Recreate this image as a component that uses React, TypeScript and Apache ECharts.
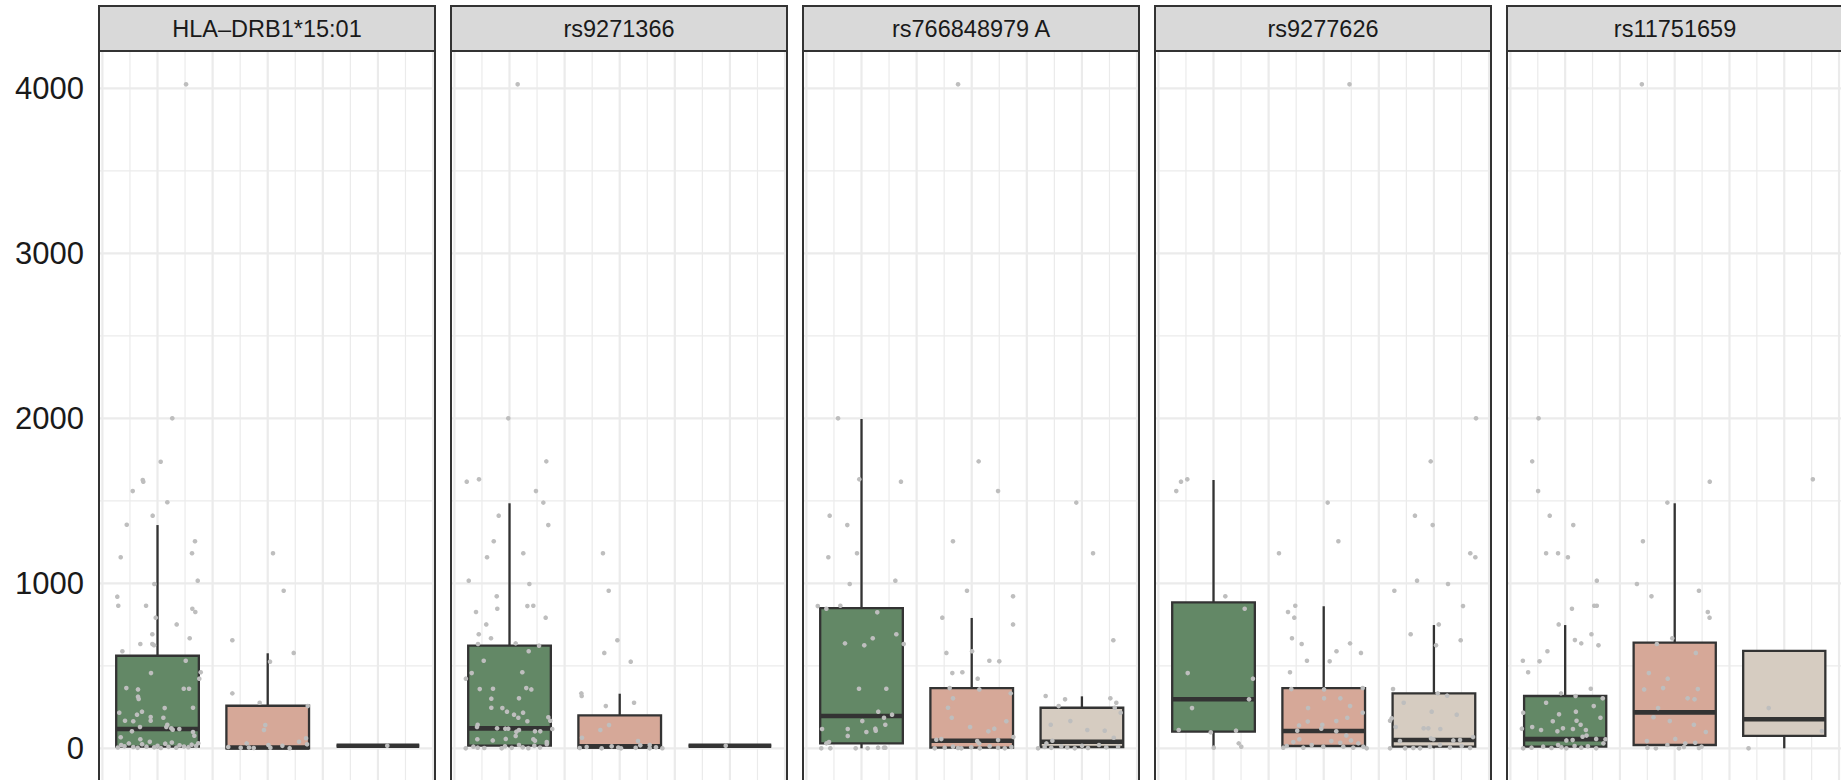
import React, { useEffect, useRef } from "react";
import * as echarts from "echarts";

const PANEL_TITLES = ["HLA–DRB1*15:01", "rs9271366", "rs766848979 A", "rs9277626", "rs11751659"];
const GROUP_X = [1, 2, 3];
const GROUP_COLORS = ["#638866", "#D6A898", "#D6CCC1"];
const Y_LABELS = [0, 1000, 2000, 3000, 4000];
const Y_MINOR = [500, 1500, 2500, 3500];
const X_MAJOR = [0.5, 1, 1.5, 2, 2.5, 3, 3.5];
const X_MINOR = [0.75, 1.25, 1.75, 2.25, 2.75, 3.25];

// [lower whisker, Q1, median, Q3, upper whisker] per group
const BOX_1 = [[0, 10, 117, 561, 1353], [0, 0, 5, 258, 576], [16, 16, 16, 16, 16]];
const BOX_2 = [[5, 16, 121, 622, 1485], [0, 5, 12, 200, 331], [16, 16, 16, 16, 16]];
const BOX_3 = [[0, 30, 196, 850, 1996], [0, 4, 46, 365, 790], [0, 8, 40, 246, 315]];
const BOX_4 = [[0, 101, 297, 885, 1626], [0, 14, 105, 365, 861], [0, 10, 50, 333, 747]];
const BOX_5 = [[0, 10, 56, 317, 747], [20, 20, 218, 641, 1485], [0, 75, 176, 590, 590]];

// jittered points [x, value]
const POINTS_1 = [
  [1.259, 4024], [1.134, 2000], [1.029, 1737], [0.866, 1626], [0.871, 1616], [0.775, 1559], [1.089, 1491], [0.956, 1410], [0.721, 1355], [1.34, 1255], [1.313, 1182], [0.666, 1158], [1.365, 1016], [0.971, 996], [0.635, 919], [0.644, 864], [0.896, 864], [1.316, 846], [1.343, 826], [0.984, 792], [1.174, 751], [0.953, 691], [1.292, 667], [0.844, 632], [0.953, 632], [0.968, 625], [0.681, 588], [1.256, 531], [1.392, 461], [0.941, 456], [1.379, 422], [0.717, 365], [0.823, 357], [1.238, 361], [1.286, 361], [0.823, 313], [0.829, 299], [1.322, 246], [1.065, 244], [0.859, 222], [0.653, 216], [0.814, 204], [0.938, 190], [1.053, 185], [0.938, 167], [0.705, 167], [0.78, 164], [1.089, 143], [0.841, 129], [1.08, 129], [1.125, 121], [1.198, 117], [1.138, 113], [0.768, 103], [1.322, 99], [1.334, 76], [0.666, 67], [0.844, 55],
  [0.64, 5], [0.67, 20], [0.7, 12], [0.74, 30], [0.78, 8], [0.82, 3], [0.86, 25], [0.9, 10], [0.93, 40], [0.97, 6], [1.0, 15], [1.03, 2], [1.07, 28], [1.1, 9], [1.13, 35], [1.17, 4], [1.2, 18], [1.24, 11], [1.28, 7], [1.31, 22], [1.35, 14], [1.37, 31],
  [2.048, 1182], [2.145, 955], [1.679, 655], [2.236, 578], [2.021, 525], [1.679, 333], [1.927, 276], [2.363, 256], [1.978, 141], [1.966, 111], [2.348, 61], [2.357, 24], [1.642, 8], [1.755, 3], [1.809, 30], [1.83, 5], [1.873, 2], [2.006, 20], [2.024, 4], [2.133, 15], [2.199, 1], [2.284, 40],
  [3.085, 16],
];
const POINTS_2 = [
  [1.074, 4024], [0.989, 2000], [1.334, 1739], [0.612, 1616], [0.723, 1630], [1.24, 1559], [1.307, 1489], [1.352, 1353], [0.902, 1410], [0.857, 1255], [0.796, 1158], [1.125, 1182], [0.63, 1016], [1.18, 996], [0.884, 921], [0.889, 846], [0.696, 826], [1.162, 862], [1.216, 864], [1.328, 792], [0.789, 751], [0.721, 691], [0.832, 667], [0.714, 632], [1.056, 636], [1.268, 622], [1.174, 588], [0.766, 531], [0.657, 456], [1.116, 461], [0.604, 422], [0.73, 359], [0.85, 361], [1.152, 365], [1.198, 357], [0.835, 301], [1.086, 303], [0.835, 246], [0.935, 244], [0.977, 222], [1.041, 204], [1.123, 216], [1.08, 185], [1.162, 164], [1.352, 188], [1.37, 167], [0.711, 143], [0.705, 129], [0.887, 121], [0.962, 119], [0.989, 119], [1.062, 101], [1.086, 111], [1.231, 103], [1.279, 103], [1.388, 117], [0.708, 55], [0.848, 48], [0.966, 57], [1.216, 55], [1.056, 75], [1.231, 46], [1.338, 38],
  [0.603, 0], [0.672, 10], [0.711, 4], [0.771, 2], [0.929, 0], [0.959, 12], [1.02, 3], [1.086, 20], [1.12, 6], [1.171, 1], [1.225, 15], [1.277, 5], [1.338, 25],
  [1.848, 1182], [1.9, 955], [1.979, 655], [1.86, 578], [2.1, 525], [1.652, 333], [1.655, 317], [1.874, 256], [2.13, 276], [1.903, 141], [1.824, 111], [1.658, 64], [2.166, 44], [2.272, 20], [1.637, 2], [1.7, 8], [1.836, 0], [1.927, 12], [1.987, 5], [2.012, 0], [2.145, 3], [2.187, 18], [2.272, 0], [2.329, 6], [2.387, 1],
  [2.962, 16],
];
const POINTS_3 = [
  [0.787, 2000], [0.98, 1630], [1.358, 1616], [0.711, 1410], [0.871, 1353], [0.699, 1158], [0.959, 1182], [0.893, 996], [1.307, 1016], [0.603, 862], [0.681, 846], [0.808, 864], [1.143, 824], [0.85, 636], [1.025, 624], [1.102, 667], [1.316, 691], [1.383, 632], [0.977, 361], [1.225, 361], [1.152, 222], [1.277, 204], [1.204, 185], [1.007, 165], [1.216, 143], [0.642, 117], [0.875, 117], [1.125, 119], [1.129, 107], [1.044, 99], [0.875, 75], [0.705, 38], [0.681, 30], [0.635, 0], [0.717, 0], [0.947, 0], [1.056, 0], [1.15, 4], [1.204, 4], [1.216, 4],
  [1.876, 4024], [2.063, 1739], [2.239, 1559], [1.83, 1255], [1.957, 955], [2.375, 921], [1.733, 792], [2.375, 751], [1.77, 578], [2.003, 588], [2.16, 531], [2.25, 527], [1.824, 456], [1.915, 461], [2.054, 422], [1.8, 365], [2.069, 357], [2.354, 333], [1.83, 303], [1.785, 246], [1.819, 185], [2.314, 164], [1.985, 129], [2.205, 119], [2.151, 103], [2.378, 68], [2.239, 50], [2.05, 44], [1.679, 52], [1.724, 56], [2.068, 30], [1.664, 0], [1.755, 4], [1.83, 10], [1.876, 2], [1.906, 0], [1.996, 6], [2.073, 0], [2.163, 12], [2.239, 3], [2.3, 0], [2.36, 8],
  [2.949, 1489], [3.101, 1182], [3.285, 655], [2.671, 317], [2.847, 297], [2.789, 256], [3.258, 303], [3.312, 276], [3.352, 216], [3.298, 246], [2.717, 143], [2.895, 165], [3.049, 111], [3.207, 107], [3.289, 64], [2.732, 46], [2.678, 30], [2.602, 0], [2.662, 8], [2.722, 3], [2.813, 12], [2.867, 5], [2.935, 0], [3.001, 15], [3.055, 2], [3.155, 20], [3.221, 6], [3.328, 10],
];
const POINTS_4 = [
  [0.662, 1559], [0.705, 1616], [0.762, 1630], [1.107, 921], [1.283, 846], [0.766, 456], [1.358, 422], [1.322, 297], [0.805, 244], [0.684, 111], [0.975, 97], [1.204, 107], [1.229, 30], [1.252, 10], [1.002, 4],
  [2.234, 4024], [2.036, 1489], [2.133, 1255], [1.594, 1182], [1.742, 864], [1.676, 826], [1.733, 792], [1.712, 667], [1.8, 632], [2.239, 636], [2.116, 588], [2.338, 578], [2.054, 527], [1.848, 531], [1.694, 461], [1.706, 359], [2.003, 357], [2.354, 365], [2.003, 303], [2.151, 303], [2.239, 256], [1.858, 244], [2.354, 216], [2.214, 185], [1.855, 162], [2.114, 165], [1.776, 139], [1.987, 143], [1.978, 119], [1.76, 107], [2.114, 103], [2.205, 77], [1.779, 55], [2.069, 44], [2.15, 34], [1.724, 38], [2.248, 48], [2.314, 30], [2.36, 10], [1.633, 4], [1.664, 14], [1.815, 4], [1.891, 20], [1.996, 10], [2.178, 10], [2.268, 4], [2.39, 0],
  [3.382, 2000], [2.971, 1739], [2.828, 1410], [2.989, 1353], [3.33, 1182], [3.376, 1158], [2.847, 1016], [3.128, 996], [2.641, 955], [3.264, 862], [3.044, 751], [2.789, 691], [3.243, 655], [3.019, 624], [2.629, 359], [2.726, 276], [3.035, 333], [3.12, 319], [2.98, 222], [3.207, 204], [2.617, 182], [2.653, 129], [2.602, 167], [2.907, 121], [2.949, 121], [3.058, 117], [3.355, 68], [2.974, 60], [2.995, 55], [2.692, 44], [3.176, 48], [3.237, 50], [2.602, 0], [2.738, 0], [2.813, 2], [2.874, 0], [2.964, 10], [3.055, 20], [3.146, 5], [3.252, 14], [3.328, 2],
];
const POINTS_5 = [
  [0.757, 2000], [0.699, 1739], [0.753, 1559], [0.859, 1410], [1.074, 1353], [0.826, 1182], [0.935, 1182], [1.025, 1158], [1.289, 1016], [1.062, 846], [1.265, 864], [1.289, 864], [0.941, 751], [1.089, 656], [1.147, 636], [1.24, 691], [1.304, 624], [0.838, 588], [0.614, 531], [0.766, 527], [0.662, 461], [1.234, 361], [0.962, 333], [1.095, 317], [1.343, 303], [0.826, 276], [1.261, 256], [0.617, 216], [0.944, 206], [1.098, 222], [1.322, 185], [0.887, 164], [1.104, 167], [1.141, 143], [0.699, 129], [0.78, 111], [0.929, 103], [0.98, 121], [1.071, 117], [1.189, 111], [0.605, 119], [1.159, 70], [1.195, 77], [1.283, 57], [1.368, 55], [1.011, 48], [1.068, 50], [0.617, 0], [0.693, 4], [0.799, 10], [0.875, 2], [0.935, 20], [0.966, 6], [1.011, 0], [1.086, 14], [1.147, 4], [1.207, 12], [1.283, 0], [1.349, 30],
  [1.7, 4024], [2.32, 1616], [1.933, 1489], [1.71, 1255], [1.655, 996], [1.788, 921], [2.221, 955], [2.302, 826], [2.318, 792], [1.978, 667], [1.837, 632], [2.193, 578], [1.764, 456], [1.936, 422], [1.721, 357], [1.894, 365], [2.211, 359], [2.118, 303], [2.181, 297], [1.848, 244], [1.806, 188], [1.955, 165], [2.175, 143], [2.284, 99], [2.005, 57], [1.746, 44], [2.096, 30], [2.187, 34], [1.751, 4], [1.828, 0], [1.933, 20], [2.039, 0], [2.084, 8], [2.221, 2], [2.245, 10],
  [3.261, 1630], [2.858, 244], [3.343, 105], [2.674, 0],
];

const BOXES = [BOX_1, BOX_2, BOX_3, BOX_4, BOX_5];
const POINTS = [POINTS_1, POINTS_2, POINTS_3, POINTS_4, POINTS_5];

// layout
const W = 1841;
const H = 780;
const PANEL_LEFT0 = 99;
const PANEL_STEP = 352;
const PANEL_W = 336;
const STRIP_TOP = 6;
const PANEL_TOP = 51;
const X_MIN = 0.469;
const X_MAX = 3.518;
const Y_MIN = -192;
const Y_MAX = 4226;
const FONT = "'Liberation Sans', Arial, Helvetica, sans-serif";
const GRID_COLOR = "#EBEBEB";
const INK = "#333333";
const BOX_LW = 2.3;
const MEDIAN_LW = 4.6;

export default function App() {
  const ref = useRef<HTMLDivElement>(null);
  useEffect(() => {
    if (!ref.current) return;
    const chart = echarts.init(ref.current, null, { renderer: "svg" });

    const gridLines: number[][] = [];
    X_MAJOR.forEach((v) => gridLines.push([0, v, 1]));
    X_MINOR.forEach((v) => gridLines.push([0, v, 0]));
    Y_LABELS.forEach((v) => gridLines.push([1, v, 1]));
    Y_MINOR.forEach((v) => gridLines.push([1, v, 0]));

    const grids: any[] = [];
    const xAxes: any[] = [];
    const yAxes: any[] = [];
    const series: any[] = [];
    const graphics: any[] = [];

    PANEL_TITLES.forEach((title, i) => {
      const left = PANEL_LEFT0 + i * PANEL_STEP;
      grids.push({ left, top: PANEL_TOP, width: PANEL_W, height: H - PANEL_TOP, show: false });
      xAxes.push({ gridIndex: i, type: "value", min: X_MIN, max: X_MAX, show: false });
      yAxes.push({
        gridIndex: i,
        type: "value",
        min: Y_MIN,
        max: Y_MAX,
        show: i === 0,
        axisLine: { show: false },
        axisTick: { show: false },
        splitLine: { show: false },
        axisLabel: {
          show: i === 0,
          customValues: Y_LABELS,
          formatter: (v: number) => String(v),
          fontSize: 31,
          color: "#1A1A1A",
          fontFamily: FONT,
          margin: 15,
        },
      });

      series.push({
        type: "custom",
        xAxisIndex: i,
        yAxisIndex: i,
        silent: true,
        z: 1,
        data: gridLines,
        renderItem: (params: any, api: any) => {
          const cs = params.coordSys;
          const orient = api.value(0);
          const v = api.value(1);
          const major = api.value(2) === 1;
          const lw = major ? 2.2 : 1.2;
          if (orient === 0) {
            const p = api.coord([v, 0]);
            return {
              type: "line",
              shape: { x1: p[0], y1: cs.y, x2: p[0], y2: cs.y + cs.height + 40 },
              style: { stroke: GRID_COLOR, lineWidth: lw },
            };
          }
          const p = api.coord([1, v]);
          return {
            type: "line",
            shape: { x1: cs.x, y1: p[1], x2: cs.x + cs.width, y2: p[1] },
            style: { stroke: GRID_COLOR, lineWidth: lw },
          };
        },
      });

      const boxData = BOXES[i].map((b, g) => [GROUP_X[g], b[0], b[1], b[2], b[3], b[4], g]);
      series.push({
        type: "custom",
        xAxisIndex: i,
        yAxisIndex: i,
        silent: true,
        z: 2,
        data: boxData,
        renderItem: (_params: any, api: any) => {
          const x = api.value(0);
          const w = api.size([0.75, 0])[0];
          const pLow = api.coord([x, api.value(1)]);
          const pQ1 = api.coord([x, api.value(2)]);
          const pMed = api.coord([x, api.value(3)]);
          const pQ3 = api.coord([x, api.value(4)]);
          const pHigh = api.coord([x, api.value(5)]);
          const color = GROUP_COLORS[api.value(6)];
          const cx = pMed[0];
          return {
            type: "group",
            children: [
              { type: "line", shape: { x1: cx, y1: pQ3[1], x2: cx, y2: pHigh[1] }, style: { stroke: INK, lineWidth: BOX_LW } },
              { type: "line", shape: { x1: cx, y1: pQ1[1], x2: cx, y2: pLow[1] }, style: { stroke: INK, lineWidth: BOX_LW } },
              {
                type: "rect",
                shape: { x: cx - w / 2, y: pQ3[1], width: w, height: pQ1[1] - pQ3[1] },
                style: { fill: color, stroke: INK, lineWidth: BOX_LW },
              },
              { type: "line", shape: { x1: cx - w / 2, y1: pMed[1], x2: cx + w / 2, y2: pMed[1] }, style: { stroke: INK, lineWidth: MEDIAN_LW } },
            ],
          };
        },
      });

      series.push({
        type: "scatter",
        xAxisIndex: i,
        yAxisIndex: i,
        silent: true,
        z: 3,
        symbol: "circle",
        symbolSize: 4.6,
        itemStyle: { color: "#BEBEBE", opacity: 1 },
        data: POINTS[i],
      });

      graphics.push({
        type: "rect",
        z: 100,
        silent: true,
        shape: { x: left, y: PANEL_TOP, width: PANEL_W, height: H },
        style: { fill: "none", stroke: INK, lineWidth: 2 },
      });
      graphics.push({
        type: "rect",
        z: 100,
        silent: true,
        shape: { x: left, y: STRIP_TOP, width: PANEL_W, height: PANEL_TOP - STRIP_TOP },
        style: { fill: "#D9D9D9", stroke: INK, lineWidth: 2 },
      });
      graphics.push({
        type: "text",
        z: 101,
        silent: true,
        x: left + PANEL_W / 2,
        y: (STRIP_TOP + PANEL_TOP) / 2,
        style: {
          text: title,
          align: "center",
          verticalAlign: "middle",
          fontSize: 23.5,
          fontFamily: FONT,
          fill: "#1A1A1A",
        },
      });
    });

    chart.setOption({
      animation: false,
      backgroundColor: "#FFFFFF",
      textStyle: { fontFamily: FONT },
      grid: grids,
      xAxis: xAxes,
      yAxis: yAxes,
      series,
      graphic: { elements: graphics },
    });

    return () => chart.dispose();
  }, []);

  return (
    <div
      ref={ref}
      style={{ position: "absolute", left: 0, top: 0, width: W, height: H, overflow: "hidden", background: "#fff" }}
    />
  );
}
